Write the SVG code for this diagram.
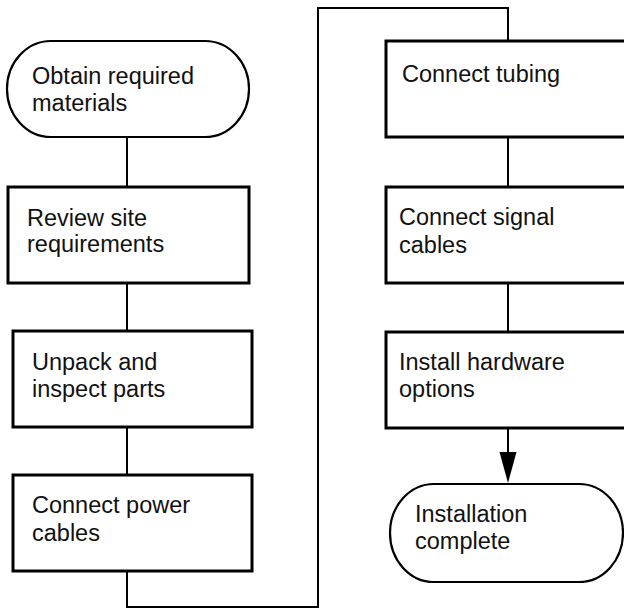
<svg xmlns="http://www.w3.org/2000/svg" width="624" height="609" viewBox="0 0 624 609">
<style>
.box{fill:#fff;stroke:#000;stroke-width:3}
.term{fill:#fff;stroke:#000;stroke-width:2.2}
.con{fill:none;stroke:#000;stroke-width:2}
text{font-family:"Liberation Sans",Arial,sans-serif;font-size:23.5px;fill:#111}
</style>
<rect width="624" height="609" fill="#fff"/>
<g id="connectors">
<line class="con" x1="127" y1="137" x2="127" y2="187"/>
<line class="con" x1="127" y1="283" x2="127" y2="331"/>
<line class="con" x1="127" y1="427" x2="127" y2="475"/>
<polyline class="con" points="127,571 127,607 318,607 318,8 508,8 508,41"/>
<line class="con" x1="508" y1="137" x2="508" y2="187"/>
<line class="con" x1="508" y1="283" x2="508" y2="332"/>
<line class="con" x1="508" y1="428" x2="508" y2="454"/>
<polygon points="499.5,452 516.5,452 508,483" fill="#000"/>
</g>
<g id="n1">
<rect class="term" x="7" y="41" width="242" height="96" rx="44" ry="48"/>
<text x="32" y="84">Obtain required</text>
<text x="32" y="111">materials</text>
</g>
<g id="n2">
<rect class="box" x="8" y="187" width="241" height="96"/>
<text x="27" y="226">Review site</text>
<text x="27" y="252">requirements</text>
</g>
<g id="n3">
<rect class="box" x="13" y="331" width="239" height="96"/>
<text x="32" y="370">Unpack and</text>
<text x="32" y="397">inspect parts</text>
</g>
<g id="n4">
<rect class="box" x="13" y="475" width="239" height="96"/>
<text x="32" y="513">Connect power</text>
<text x="32" y="541">cables</text>
</g>
<g id="n5">
<rect class="box" x="386" y="41" width="250" height="96"/>
<text x="402" y="82">Connect tubing</text>
</g>
<g id="n6">
<rect class="box" x="386" y="187" width="250" height="96"/>
<text x="399" y="225">Connect signal</text>
<text x="399" y="253">cables</text>
</g>
<g id="n7">
<rect class="box" x="386" y="332" width="250" height="96"/>
<text x="399" y="370">Install hardware</text>
<text x="399" y="397">options</text>
</g>
<g id="n8">
<rect class="term" x="390" y="484" width="233" height="98" rx="44" ry="49"/>
<text x="415" y="522">Installation</text>
<text x="415" y="549">complete</text>
</g>
</svg>
